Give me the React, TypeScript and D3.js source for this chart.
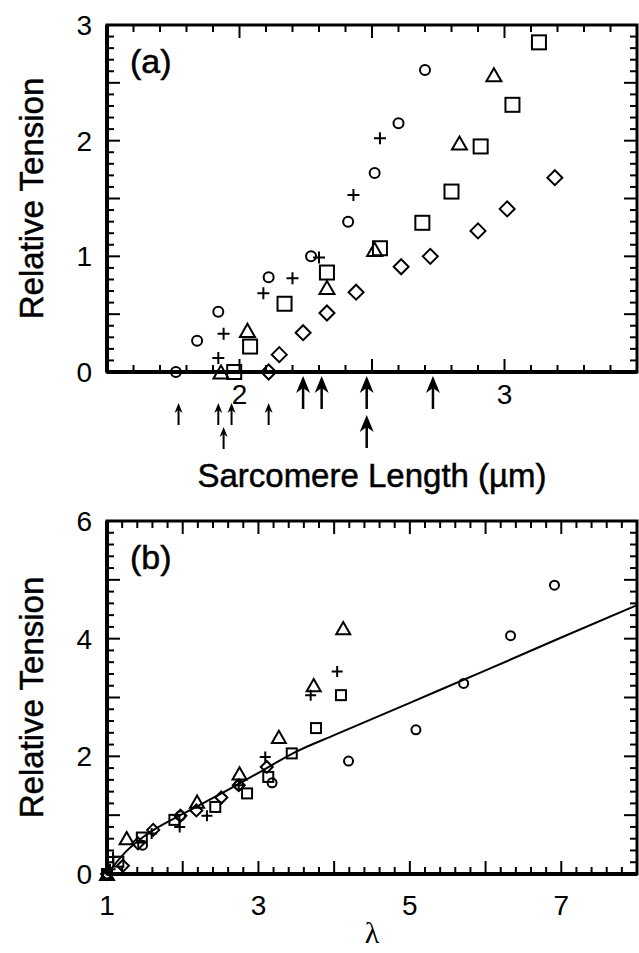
import React from "react";
import * as d3 from "d3";

const width = 639;
const height = 953;

// ---- panel (a): relative tension vs sarcomere length (µm) ----
const aCircleX = [1.76, 1.84, 1.92, 2.11, 2.27, 2.41, 2.51, 2.6, 2.7];
const aCircleY = [0, 0.27, 0.52, 0.82, 1.0, 1.3, 1.72, 2.15, 2.61];
const aPlusX = [1.92, 1.94, 2.09, 2.2, 2.3, 2.43, 2.53];
const aPlusY = [0.12, 0.33, 0.68, 0.81, 0.99, 1.53, 2.02];
const aTriX = [1.93, 2.03, 2.33, 2.51, 2.83, 2.96];
const aTriY = [0, 0.36, 0.73, 1.06, 1.98, 2.57];
const aSquareX = [1.98, 2.04, 2.17, 2.33, 2.53, 2.69, 2.8, 2.91, 3.03, 3.13];
const aSquareY = [0, 0.22, 0.59, 0.86, 1.07, 1.29, 1.56, 1.95, 2.31, 2.85];
const aDiamondX = [2.11, 2.15, 2.24, 2.33, 2.44, 2.61, 2.72, 2.9, 3.01, 3.19];
const aDiamondY = [0, 0.15, 0.34, 0.51, 0.69, 0.91, 1.0, 1.22, 1.41, 1.68];

// arrows under the sarcomere axis
const arrowSL = [1.77, 1.92, 1.97, 1.94, 2.11, 2.24, 2.31, 2.48, 2.48, 2.73];
const arrowRow = [0, 0, 0, 1, 0, 0, 0, 0, 1, 0];
const arrowBig = [false, false, false, false, false, true, true, true, true, true];

const aXLabels = [2, 3];
const aYLabels = [0, 1, 2, 3];

// ---- panel (b): relative tension vs lambda ----
const bCircleX = [1.0, 1.47, 1.97, 2.74, 3.18, 4.19, 5.08, 5.71, 6.33, 6.91];
const bCircleY = [0, 0.49, 0.99, 1.51, 1.55, 1.92, 2.45, 3.24, 4.05, 4.91];
const bPlusX = [1.04, 1.08, 1.59, 1.96, 2.32, 2.74, 3.09, 3.69, 4.04];
const bPlusY = [0.08, 0.29, 0.69, 0.8, 0.99, 1.51, 1.99, 3.04, 3.44];
const bTriX = [1.0, 1.26, 2.19, 2.75, 3.27, 3.73, 4.12];
const bTriY = [0, 0.61, 1.23, 1.71, 2.33, 3.21, 4.18];
const bSquareX = [1.0, 1.15, 1.46, 1.89, 2.43, 2.85, 3.13, 3.44, 3.76, 4.09];
const bSquareY = [0, 0.21, 0.62, 0.92, 1.14, 1.37, 1.65, 2.05, 2.48, 3.04];
const bDiamondX = [1.0, 1.21, 1.41, 1.61, 1.97, 2.18, 2.51, 2.74, 3.11];
const bDiamondY = [0, 0.14, 0.52, 0.75, 0.99, 1.08, 1.3, 1.51, 1.82];

// fitted curve
const fitX = [1, 1.25, 1.5, 2, 2.5, 3, 3.5, 4, 5, 6, 7, 8];
const fitY = [0, 0.38, 0.65, 1.02, 1.36, 1.72, 2.08, 2.36, 2.91, 3.46, 4.02, 4.57];

const bXLabels = [1, 3, 5, 7];
const bYLabels = [0, 2, 4, 6];

const font = "Liberation Sans, Arial, Helvetica, sans-serif";

const sizeA = { circle: 10, plus: 12, triangle: 15, square: 14, diamond: 15 };
const sizeB = { circle: 9, plus: 11, triangle: 14, square: 10, diamond: 12 };

const Marker = ({ shape, x, y, s }) => {
	const st = { fill: "none", stroke: "#000", strokeWidth: 2 };
	if (shape === "circle") return <circle cx={x} cy={y} r={s / 2} {...st} />;
	if (shape === "plus")
		return (
			<path
				d={`M${x - s / 2},${y}H${x + s / 2}M${x},${y - s / 2}V${y + s / 2}`}
				{...st}
			/>
		);
	if (shape === "square")
		return <rect x={x - s / 2} y={y - s / 2} width={s} height={s} {...st} />;
	if (shape === "triangle") {
		const h = s * 0.87;
		return (
			<path
				d={`M${x},${y - h / 2}L${x + s / 2},${y + h / 2}L${x - s / 2},${y + h / 2}Z`}
				{...st}
			/>
		);
	}
	return (
		<path
			d={`M${x},${y - s / 2}L${x + s / 2},${y}L${x},${y + s / 2}L${x - s / 2},${y}Z`}
			{...st}
		/>
	);
};

const near = (v, step) => Math.abs(v / step - Math.round(v / step)) < 1e-6;

const stepsOf = (domain, step) => {
	const n = Math.round((domain[1] - domain[0]) / step);
	return d3.range(n + 1).map((i) => domain[0] + i * step);
};

const Frame = ({ x, y, xStep, xMajor, yStep, yMajor }) => {
	const [x0, x1] = x.range();
	const [y0, y1] = y.range();
	const minor = 7;
	const major = 13;
	const lines = [];
	stepsOf(x.domain(), xStep).forEach((v, i) => {
		const len = near(v, xMajor) ? major : minor;
		const px = x(v);
		lines.push(<line key={"b" + i} x1={px} x2={px} y1={y0} y2={y0 - len} />);
		lines.push(<line key={"t" + i} x1={px} x2={px} y1={y1} y2={y1 + len} />);
	});
	stepsOf(y.domain(), yStep).forEach((v, i) => {
		const len = near(v, yMajor) ? major : minor;
		const py = y(v);
		lines.push(<line key={"l" + i} x1={x0} x2={x0 + len} y1={py} y2={py} />);
		lines.push(<line key={"r" + i} x1={x1} x2={x1 - len} y1={py} y2={py} />);
	});
	return (
		<g stroke="#000" strokeWidth={2}>
			{lines}
			<rect x={x0} y={y1} width={x1 - x0} height={y0 - y1} fill="none" strokeWidth={3} />
			<line x1={x0} x2={x0} y1={y1} y2={y0} strokeWidth={4} />
			<line x1={x0} x2={x1} y1={y0} y2={y0} strokeWidth={4} />
		</g>
	);
};

const Scatter = ({ xs, ys, shape, x, y, sizes }) => (
	<g>
		{xs.map((v, i) => (
			<Marker key={i} shape={shape} x={x(v)} y={y(ys[i])} s={sizes[shape]} />
		))}
	</g>
);

const Arrow = ({ x, tip, big }) => {
	const len = big ? 33 : 22;
	const hw = big ? 7 : 4;
	const hh = big ? 17 : 10;
	const notch = big ? 12 : 7;
	return (
		<g>
			<line x1={x} x2={x} y1={tip + notch} y2={tip + len} stroke="#000" strokeWidth={big ? 2.5 : 2} />
			<path d={`M${x},${tip}L${x + hw},${tip + hh}L${x},${tip + notch}L${x - hw},${tip + hh}Z`} fill="#000" />
		</g>
	);
};

const App = () => {
	const left = 107;
	const right = 637;

	const xA = d3.scaleLinear().domain([1.5, 3.5]).range([left, right]);
	const yA = d3.scaleLinear().domain([0, 3]).range([372, 25]);
	const xB = d3.scaleLinear().domain([1, 8]).range([left, right]);
	const yB = d3.scaleLinear().domain([0, 6]).range([874, 521]);

	const fitLine = d3
		.line()
		.x((d) => xB(d[0]))
		.y((d) => yB(d[1]))
		.curve(d3.curveMonotoneX);

	const seriesA = [
		["circle", aCircleX, aCircleY],
		["plus", aPlusX, aPlusY],
		["triangle", aTriX, aTriY],
		["square", aSquareX, aSquareY],
		["diamond", aDiamondX, aDiamondY],
	];
	const seriesB = [
		["circle", bCircleX, bCircleY],
		["plus", bPlusX, bPlusY],
		["triangle", bTriX, bTriY],
		["square", bSquareX, bSquareY],
		["diamond", bDiamondX, bDiamondY],
	];

	const smallTips = [403, 427];
	const bigTips = [376, 415];
	const heavy = { stroke: "#000", strokeWidth: 0.5 };

	return (
		<svg
			width={width}
			height={height}
			style={{ position: "absolute", left: 0, top: 0, background: "#fff" }}
			fontFamily={font}
		>
			<rect width={width} height={height} fill="#fff" />

			{/* panel (a) */}
			<Frame x={xA} y={yA} xStep={0.1} xMajor={0.5} yStep={0.1} yMajor={0.5} />
			{seriesA.map(([shape, xs, ys]) => (
				<Scatter key={shape} shape={shape} xs={xs} ys={ys} x={xA} y={yA} sizes={sizeA} />
			))}
			{aYLabels.map((v) => (
				<text key={v} x={92} y={yA(v)} dy="0.36em" textAnchor="end" fontSize={28}>
					{v}
				</text>
			))}
			{aXLabels.map((v) => (
				<text key={v} x={xA(v)} y={404} textAnchor="middle" fontSize={28}>
					{v}
				</text>
			))}
			{arrowSL.map((v, i) => (
				<Arrow
					key={i}
					x={xA(v)}
					big={arrowBig[i]}
					tip={arrowBig[i] ? bigTips[arrowRow[i]] : smallTips[arrowRow[i]]}
				/>
			))}
			<text x={130} y={73} fontSize={34} {...heavy}>
				(a)
			</text>
			<text x={(left + right) / 2} y={487} textAnchor="middle" fontSize={33} {...heavy}>
				Sarcomere Length (µm)
			</text>
			<text transform={`translate(43,${yA(1.5)}) rotate(-90)`} textAnchor="middle" fontSize={33} {...heavy}>
				Relative Tension
			</text>

			{/* panel (b) */}
			<Frame x={xB} y={yB} xStep={0.2} xMajor={1} yStep={0.2} yMajor={1} />
			<path d={fitLine(fitX.map((v, i) => [v, fitY[i]]))} fill="none" stroke="#000" strokeWidth={2} />
			{seriesB.map(([shape, xs, ys]) => (
				<Scatter key={shape} shape={shape} xs={xs} ys={ys} x={xB} y={yB} sizes={sizeB} />
			))}
			{bYLabels.map((v) => (
				<text key={v} x={92} y={yB(v)} dy="0.36em" textAnchor="end" fontSize={28}>
					{v}
				</text>
			))}
			{bXLabels.map((v) => (
				<text key={v} x={xB(v)} y={915} textAnchor="middle" fontSize={28}>
					{v}
				</text>
			))}
			<text x={130} y={569} fontSize={34} {...heavy}>
				(b)
			</text>
			<text
				x={(left + right) / 2}
				y={943}
				textAnchor="middle"
				fontSize={30}
				fontFamily="Liberation Serif, DejaVu Serif, serif"
			>
				λ
			</text>
			<text transform={`translate(43,${yB(3)}) rotate(-90)`} textAnchor="middle" fontSize={33} {...heavy}>
				Relative Tension
			</text>
		</svg>
	);
};

export default App;
